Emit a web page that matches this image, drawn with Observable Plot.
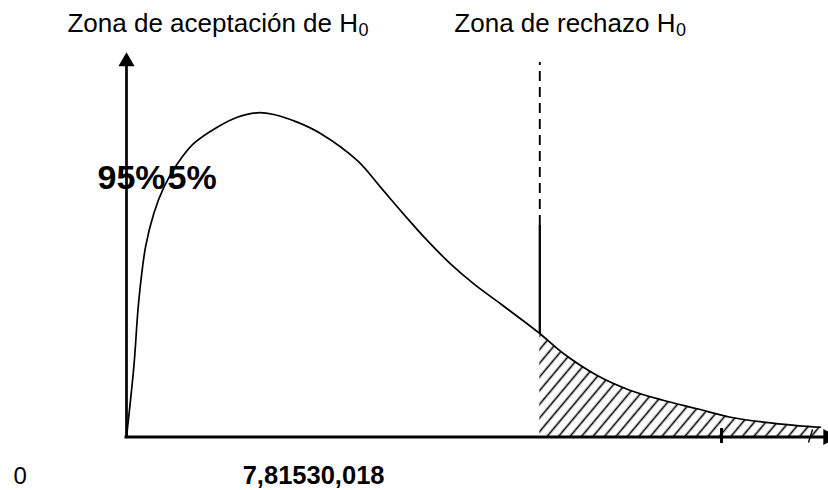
<!DOCTYPE html>
<html>
<head>
<meta charset="utf-8">
<script src="https://cdn.jsdelivr.net/npm/d3@7"></script>
<script src="https://cdn.jsdelivr.net/npm/@observablehq/plot@0.6"></script>
<style>
  html, body { margin: 0; padding: 0; background: #fff; }
  #chart { width: 828px; height: 490px; overflow: hidden; }
</style>
</head>
<body>
<div id="chart"></div>
<script>
// ---- data (drawing units: x along the axis, y = density) ----
const curveX = [0, 0.146, 0.246, 0.38, 0.546, 0.746, 1.014, 1.346, 1.814, 2.214, 2.614, 2.946, 3.414, 3.88, 4.614, 5.08, 5.48, 6.014, 6.48, 6.946, 7.48, 8.014, 8.266, 8.746, 9.414, 10.08, 10.746, 11.414, 12.08, 12.746, 13.414, 13.88];
const curveY = [0, 0.0537, 0.105, 0.146, 0.172, 0.192, 0.210, 0.2258, 0.2383, 0.246, 0.2494, 0.2481, 0.2422, 0.2335, 0.2127, 0.1922, 0.1742, 0.1512, 0.1332, 0.1178, 0.1025, 0.0871, 0.0796, 0.064, 0.0473, 0.0358, 0.0281, 0.0217, 0.0152, 0.0114, 0.0088, 0.0075];
const critValue = [8.266];
const critSpan = [0.0796, 0.1627, 0.288];   // bottom, start of dashes, top
const axisEnds = [14.03, 0.2888];            // x-axis end, y-axis end
const tickX = [11.9];
const zoneLabels = ["Zona de aceptación de H", "Zona de rechazo H"];
const subLabel = ["0"];
const areaLabels = ["95%", "5%"];
const tickLabels = ["0", "7,815", "30,018"];

const curve = curveX.map((x, i) => ({x, y: curveY[i]}));
const tail = curve.filter(d => d.x >= critValue[0]);

const triUp = {draw(ctx, size) {
  const h = Math.sqrt(size / (3 * Math.sqrt(3)));
  ctx.moveTo(0, -2 * h); ctx.lineTo(Math.sqrt(3) * h, h); ctx.lineTo(-Math.sqrt(3) * h, h); ctx.closePath();
}};
const triRight = {draw(ctx, size) {
  const h = Math.sqrt(size / (3 * Math.sqrt(3)));
  ctx.moveTo(2 * h, 0); ctx.lineTo(-h, Math.sqrt(3) * h); ctx.lineTo(-h, -Math.sqrt(3) * h); ctx.closePath();
}};

const font = "'Liberation Sans', Arial, sans-serif";
const txt = (arr, o) => Plot.text(arr, {text: d => d, frameAnchor: "top-left", lineAnchor: "bottom", fontFamily: font, fill: "#000", ...o});

const svg = Plot.plot({
  width: 828,
  height: 490,
  margin: 0,
  x: {domain: [0, 14], range: [126, 826], axis: null},
  y: {domain: [0, 0.3], range: [436.5, 46.5], axis: null},
  style: {background: "white", fontFamily: font, overflow: "hidden"},
  marks: [
    Plot.areaY(tail, {x: "x", y: "y", fill: "url(#hatch)", curve: "catmull-rom"}),
    Plot.line(curve, {x: "x", y: "y", stroke: "#000", strokeWidth: 1.7, curve: "catmull-rom"}),
    Plot.ruleX([{x: critValue[0], y1: critSpan[1], y2: critSpan[2]}], {x: "x", y1: "y1", y2: "y2", stroke: "#000", strokeWidth: 1.9, strokeDasharray: "10,6"}),
    Plot.ruleX([{x: critValue[0], y1: critSpan[0], y2: critSpan[1]}], {x: "x", y1: "y1", y2: "y2", stroke: "#000", strokeWidth: 2.3}),
    Plot.ruleY([{y: 0, x1: -0.03, x2: axisEnds[0]}], {y: "y", x1: "x1", x2: "x2", stroke: "#000", strokeWidth: 3}),
    Plot.ruleX([{x: 0, y1: 0, y2: axisEnds[1]}], {x: "x", y1: "y1", y2: "y2", stroke: "#000", strokeWidth: 2.7}),
    Plot.dot([{x: 0, y: axisEnds[1]}], {x: "x", y: "y", symbol: triUp, r: 6, fill: "#000", stroke: "none"}),
    Plot.dot([{x: axisEnds[0], y: 0}], {x: "x", y: "y", symbol: triRight, r: 6, fill: "#000", stroke: "none"}),
    Plot.ruleX(tickX.map(x => ({x, y1: -0.005, y2: 0.0065})), {x: "x", y1: "y1", y2: "y2", stroke: "#000", strokeWidth: 3}),
    Plot.link([{x1: 13.64, y1: -0.0042, x2: 13.72, y2: 0.0058}], {x1: "x1", y1: "y1", x2: "x2", y2: "y2", stroke: "#000", strokeWidth: 1.4}),
    // zone labels with subscript 0
    txt([zoneLabels[0]], {textAnchor: "end", dx: 357.5, dy: 31.7, fontSize: 26}),
    txt(subLabel, {textAnchor: "start", dx: 358, dy: 35.5, fontSize: 18}),
    txt([zoneLabels[1]], {textAnchor: "end", dx: 675, dy: 31.7, fontSize: 26}),
    txt(subLabel, {textAnchor: "start", dx: 675.5, dy: 35.5, fontSize: 18}),
    // percentages
    txt([areaLabels[0]], {textAnchor: "start", dx: 97, dy: 188, fontSize: 34, fontWeight: "bold"}),
    txt([areaLabels[1]], {textAnchor: "start", dx: 167, dy: 188, fontSize: 34, fontWeight: "bold"}),
    // values
    txt([tickLabels[0]], {textAnchor: "start", dx: 13, dy: 483, fontSize: 24}),
    txt([tickLabels[1]], {textAnchor: "end", dx: 306, dy: 483, fontSize: 25.5, fontWeight: "bold"}),
    txt([tickLabels[2]], {textAnchor: "start", dx: 306, dy: 483, fontSize: 25.5, fontWeight: "bold"})
  ]
});

// hatch pattern used by the rejection-zone area
const defs = d3.select(svg).insert("defs", ":first-child");
const pat = defs.append("pattern")
  .attr("id", "hatch")
  .attr("patternUnits", "userSpaceOnUse")
  .attr("width", 8.8).attr("height", 20)
  .attr("patternTransform", "rotate(40)");
pat.append("line").attr("x1", 4.4).attr("y1", 0).attr("x2", 4.4).attr("y2", 20)
  .attr("stroke", "#000").attr("stroke-width", 1.6);

document.getElementById("chart").appendChild(svg);
</script>
</body>
</html>
